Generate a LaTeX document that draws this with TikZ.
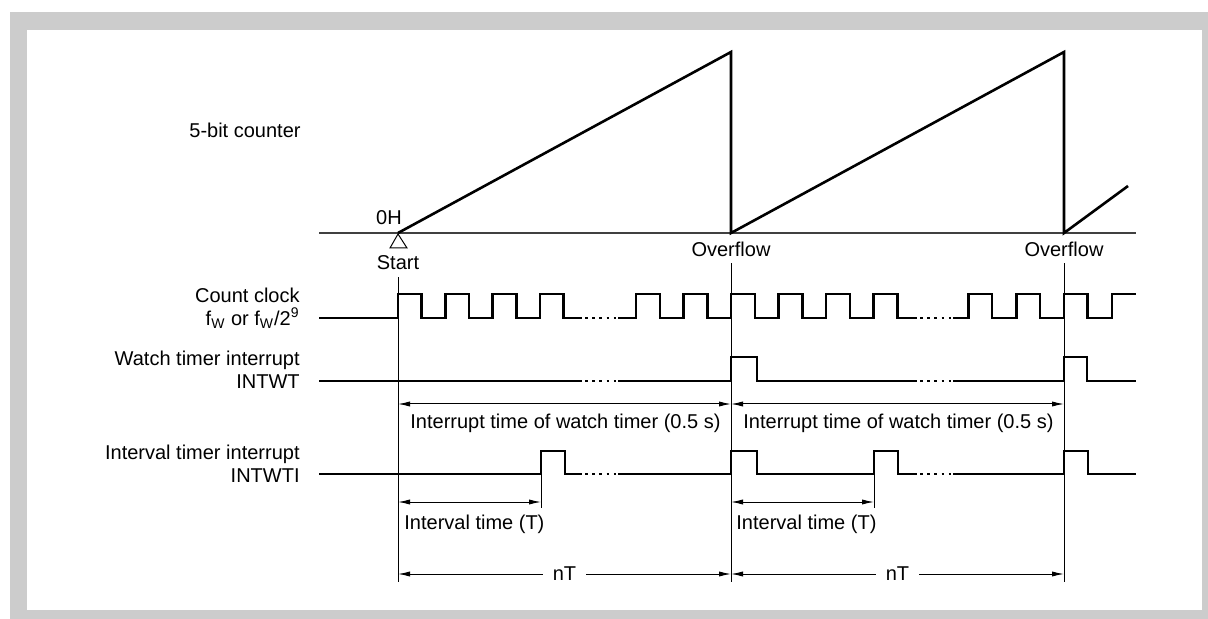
\documentclass[tikz,border=0pt]{standalone}
\usepackage{fontspec}
\setmainfont{Liberation Sans}
\usetikzlibrary{arrows.meta}
\definecolor{framegray}{RGB}{204,204,204}

\begin{document}
\begin{tikzpicture}[x=0.5pt,y=-0.5pt,font=\fontsize{10}{11.5}\selectfont,
  sig/.style={line width=1.3pt,line join=miter},
  dots/.style={line width=1.3pt,dash pattern=on 1.3pt off 2.3pt},
  guide/.style={line width=0.5pt},
  dim/.style={line width=0.5pt,{Latex[length=6pt,width=2.6pt]}-{Latex[length=6pt,width=2.6pt]}},
  lbl/.style={align=right,anchor=east,inner sep=0pt},
  gap/.style={fill=white,inner xsep=5pt,inner ysep=1pt}]
% frame
\useasboundingbox (0,0) rectangle (1208,619);
\fill[framegray] (10,12) rectangle (1208,619);
\fill[white] (27,30) rectangle (1202,610);
% time marks and levels
\coordinate (t0) at (398,233);
\coordinate (t1) at (731,233);
\coordinate (t2) at (1064,233);
\coordinate (i0) at (541,474);
\coordinate (i1) at (874,474);
\coordinate (yW) at (0,404);
\coordinate (yI) at (0,502);
\coordinate (yT) at (0,508);
\coordinate (yN) at (0,574);
\coordinate (yB) at (0,582);
% counter
\node[anchor=west,inner sep=0pt] (cnt) at (189,130) {5-bit counter};
\draw[black!75,line width=0.6pt] (319,233) -- (1136,233);
\draw[sig] (t0) -- (731,52) -- (t1) -- (1064,52) -- (t2) -- (1128,186);
\node (zero) at (389,218) {0H};
\draw[guide,fill=white] (398,234) -- (390,248) -- (407,248) -- cycle;
\node (start) at (398,263) {Start};
\node (ov1) at (731,249) {Overflow};
\node (ov2) at (1064,249) {Overflow};
\draw[guide] (start.south) -- (start.south |- yB);
\draw[guide] (ov1.south) -- (ov1.south |- yB);
\draw[guide] (ov2.south) -- (ov2.south |- yB);
% count clock
\node[lbl] (clk) at (300,308) {Count clock\\f\textsubscript{W} or f\textsubscript{W}/2\textsuperscript{9}};
\draw[sig] (319,318) \foreach \x in {398,445.3,492.6,540} { -- (\x,318) -- (\x,294) -- (\x+23.6,294) -- (\x+23.6,318) } -- (582,318);
\draw[dots] (585,318) -- (616,318);
\draw[sig] (618,318) \foreach \x in {636,683.5,731,778.5,826,873.5} { -- (\x,318) -- (\x,294) -- (\x+24,294) -- (\x+24,318) } -- (917,318);
\draw[dots] (920,318) -- (951,318);
\draw[sig] (953,318) \foreach \x in {968.6,1016.3,1064} { -- (\x,318) -- (\x,294) -- (\x+23.5,294) -- (\x+23.5,318) } -- (1112,318) -- (1112,294) -- (1136,294);
% watch timer interrupt
\node[lbl] (wt) at (300,370) {Watch timer interrupt\\INTWT};
\draw[sig] (319,381) -- (582,381);
\draw[dots] (585,381) -- (616,381);
\draw[sig] (618,381) -- (731,381) -- (731,357) -- (757,357) -- (757,381) -- (917,381);
\draw[dots] (920,381) -- (951,381);
\draw[sig] (953,381) -- (1064,381) -- (1064,357) -- (1087,357) -- (1087,381) -- (1136,381);
\draw[dim] (t0 |- yW) -- (t1 |- yW);
\draw[dim] (t1 |- yW) -- (t2 |- yW);
\node[anchor=west,inner sep=0pt] (wtime1) at (410,423) {Interrupt time of watch timer (0.5 s)};
\node[anchor=west,inner sep=0pt] (wtime2) at (743,423) {Interrupt time of watch timer (0.5 s)};
% interval timer interrupt
\node[lbl] (wti) at (300,464) {Interval timer interrupt\\INTWTI};
\draw[sig] (319,474) -- (i0) -- (541,451) -- (565,451) -- (565,474) -- (582,474);
\draw[dots] (585,474) -- (616,474);
\draw[sig] (618,474) -- (731,474) -- (731,451) -- (757,451) -- (757,474) -- (i1) -- (874,451) -- (898,451) -- (898,474) -- (917,474);
\draw[dots] (920,474) -- (951,474);
\draw[sig] (953,474) -- (1064,474) -- (1064,451) -- (1088,451) -- (1088,474) -- (1136,474);
\draw[guide] (i0) -- (i0 |- yT);
\draw[guide] (i1) -- (i1 |- yT);
\draw[dim] (t0 |- yI) -- (i0 |- yI);
\draw[dim] (t1 |- yI) -- (i1 |- yI);
\node[anchor=west,inner sep=0pt] (itime1) at (404,524) {Interval time (T)};
\node[anchor=west,inner sep=0pt] (itime2) at (736,524) {Interval time (T)};
% nT
\draw[dim] (t0 |- yN) -- node[gap] (nt1) {nT} (t1 |- yN);
\draw[dim] (t1 |- yN) -- node[gap] (nt2) {nT} (t2 |- yN);
\end{tikzpicture}
\end{document}
